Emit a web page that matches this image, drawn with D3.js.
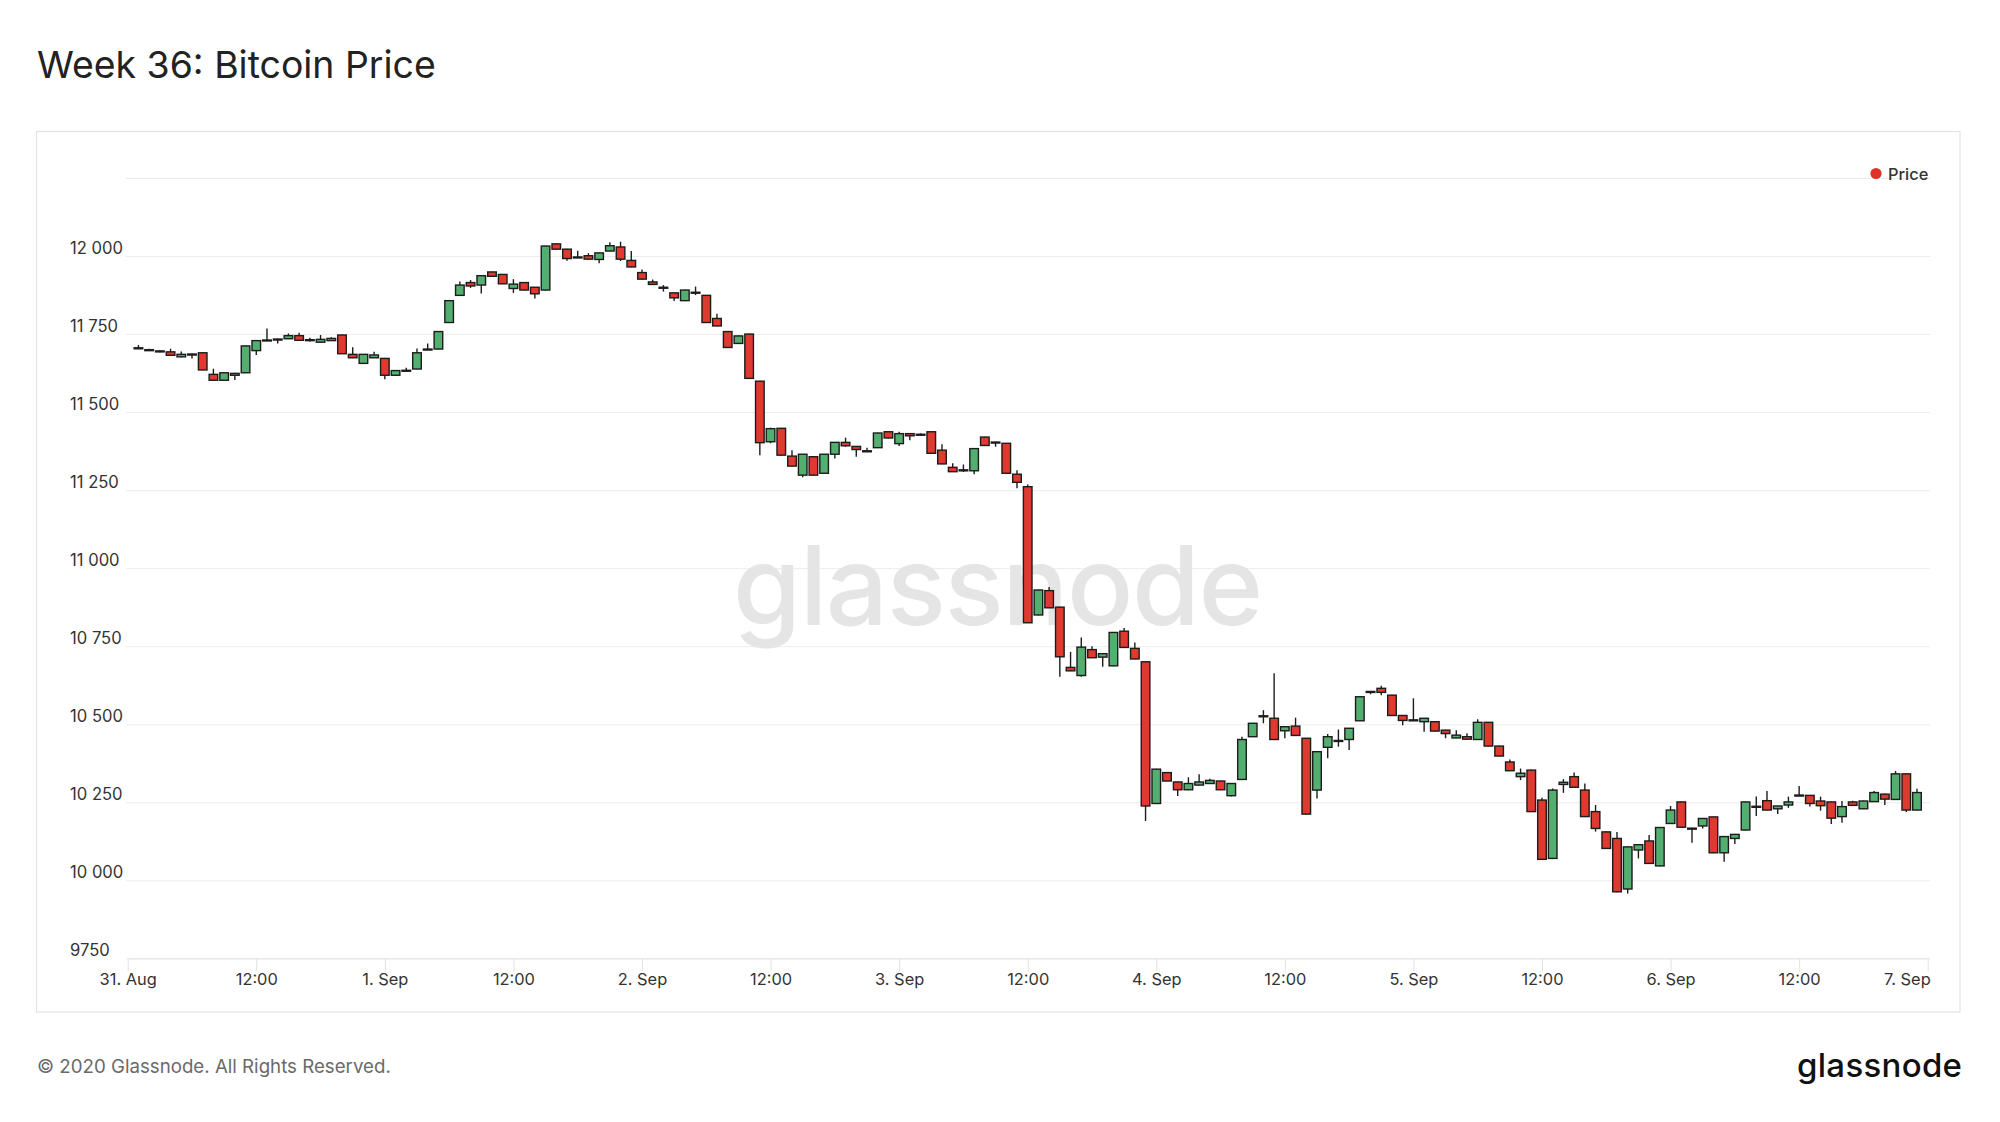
<!DOCTYPE html>
<html><head><meta charset="utf-8">
<script src="https://cdn.jsdelivr.net/npm/d3@7"></script>
<style>
html,body{margin:0;padding:0;background:#fff;}
svg{display:block;font-family:Inter,"Noto Sans",sans-serif;}
</style></head><body>
<svg id="chart" width="2000" height="1122"></svg>
<script>
// ---- data (hourly candles, first candle at 31 Aug 01:00 UTC) ----
const firstCandle = "2020-08-31T01:00:00Z";
const open = [11706,11700,11696,11693,11677,11686,11690,11621,11602,11618,11626,11697,11730,11734,11735,11745,11732,11724,11729,11747,
11685,11656,11674,11672,11618,11633,11638,11701,11702,11787,11874,11915,11907,11949,11941,11896,11915,11900,11891,12039,
12022,11997,12001,11989,12016,12029,11986,11947,11917,11900,11882,11857,11884,11874,11800,11758,11720,11750,11599,11405,
11448,11359,11298,11357,11304,11365,11403,11390,11376,11386,11437,11399,11431,11429,11437,11378,11323,11315,11312,11420,
11404,11400,11301,11261,10850,10928,10875,10682,10656,10739,10715,10687,10798,10743,10700,10246,10345,10315,10290,10305,
10310,10318,10271,10323,10460,10526,10519,10479,10494,10455,10289,10426,10447,10451,10511,10604,10615,10593,10528,10513,
10508,10508,10481,10456,10460,10451,10506,10430,10379,10332,10353,10257,10070,10307,10332,10289,10220,10155,10134,9972,
10097,10126,10046,10182,10251,10167,10174,10203,10088,10134,10161,10236,10255,10229,10241,10272,10272,10254,10251,10204,
10251,10229,10252,10276,10259,10341,10225];
const high = [11715,11703,11698,11703,11694,11688,11691,11639,11627,11626,11713,11730,11768,11736,11752,11754,11738,11747,11740,11748,
11708,11686,11693,11673,11634,11642,11704,11720,11759,11858,11918,11923,11938,11950,11942,11926,11916,11901,12033,12040,
12023,12017,12009,12011,12044,12046,12016,11957,11925,11907,11883,11892,11902,11875,11815,11759,11745,11751,11600,11450,
11449,11378,11366,11358,11366,11404,11418,11391,11386,11434,11438,11437,11432,11432,11438,11397,11336,11332,11384,11421,
11405,11401,11314,11268,10931,10940,10876,10732,10778,10750,10727,10795,10808,10762,10701,10357,10346,10316,10330,10340,
10325,10319,10311,10460,10504,10545,10663,10493,10521,10456,10413,10469,10483,10488,10589,10606,10623,10594,10529,10583,
10520,10509,10482,10481,10471,10516,10507,10431,10387,10358,10354,10264,10294,10324,10345,10310,10241,10156,10155,10108,
10115,10145,10170,10238,10252,10168,10199,10204,10141,10148,10252,10268,10286,10239,10268,10302,10273,10268,10252,10254,
10255,10255,10286,10277,10350,10342,10293];
const low = [11703,11696,11692,11681,11676,11672,11634,11601,11601,11603,11625,11683,11729,11720,11734,11729,11726,11723,11728,11686,
11673,11655,11673,11605,11617,11632,11637,11700,11701,11786,11873,11898,11880,11934,11910,11882,11890,11864,11890,12021,
11985,11995,11989,11977,12015,11984,11964,11925,11908,11886,11856,11856,11875,11786,11775,11706,11719,11607,11362,11400,
11361,11326,11291,11297,11303,11351,11389,11357,11374,11385,11416,11391,11410,11426,11367,11333,11308,11308,11301,11392,
11389,11303,11256,10824,10849,10872,10652,10670,10652,10712,10684,10686,10745,10708,10190,10245,10317,10270,10289,10304,
10309,10289,10268,10322,10459,10503,10450,10455,10463,10211,10262,10391,10428,10417,10510,10596,10593,10527,10497,10512,
10476,10477,10455,10455,10451,10450,10429,10397,10350,10321,10219,10066,10069,10280,10297,10203,10156,10101,9962,9958,
10070,10053,10045,10181,10169,10120,10166,10087,10059,10116,10160,10206,10224,10212,10232,10271,10236,10223,10180,10184,
10239,10228,10251,10241,10258,10219,10224];
const close = [11705,11698,11694,11682,11685,11685,11635,11602,11626,11624,11712,11729,11731,11733,11745,11730,11731,11733,11736,11687,
11674,11685,11683,11618,11633,11634,11690,11702,11758,11857,11907,11904,11937,11935,11911,11910,11891,11879,12032,12022,
11992,11996,11990,12010,12033,11990,11965,11926,11909,11899,11866,11891,11883,11787,11776,11707,11744,11608,11402,11447,
11362,11327,11365,11298,11365,11403,11392,11380,11375,11433,11417,11431,11424,11428,11368,11334,11309,11314,11383,11393,
11403,11304,11275,10825,10930,10873,10716,10671,10747,10713,10726,10794,10746,10709,10238,10356,10318,10290,10310,10315,
10320,10290,10310,10451,10503,10527,10451,10492,10464,10212,10412,10460,10448,10487,10588,10605,10602,10528,10512,10514,
10519,10478,10470,10465,10452,10506,10430,10398,10351,10343,10220,10067,10289,10314,10298,10204,10166,10102,9963,10107,
10114,10054,10169,10225,10170,10166,10198,10088,10140,10147,10251,10237,10225,10238,10251,10273,10246,10239,10199,10236,
10240,10254,10281,10260,10341,10225,10281];

const yTicks = [9750,10000,10250,10500,10750,11000,11250,11500,11750,12000,12250];
const yTickLabels = ["9750","10 000","10 250","10 500","10 750","11 000","11 250","11 500","11 750","12 000",""];
const xTickLabels = ["31. Aug","12:00","1. Sep","12:00","2. Sep","12:00","3. Sep","12:00","4. Sep","12:00","5. Sep","12:00","6. Sep","12:00","7. Sep"];
const seriesName = "Price";
const titleText = "Week 36: Bitcoin Price";
const footerText = "\u00A9 2020 Glassnode. All Rights Reserved.";
const brandText = "glassnode";

// ---- drawing ----
const svg = d3.select("#chart");
const RED = "#e0392f", GREEN = "#52af70", EDGE = "#1c1c1c";

svg.append("text").attr("x",37).attr("y",78).attr("font-size",37.4).attr("fill","#222").text(titleText);

svg.append("rect").attr("x",36.5).attr("y",131.5).attr("width",1923.5).attr("height",880.5)
  .attr("fill","#fff").attr("stroke","#e3e3e3").attr("stroke-width",1.2);

const t0 = new Date(Date.UTC(2020,7,31,0)), t1 = new Date(Date.UTC(2020,8,7,0));
const x = d3.scaleUtc().domain([t0,t1]).range([127.7,1927.7]);
const y = d3.scaleLinear().domain([9750,12250]).range([958.3,178]);

// y gridlines + labels
const gy = svg.append("g").attr("transform","translate(126,0)")
  .call(d3.axisRight(y).tickValues(yTicks).tickSize(1804).tickFormat((d,i)=>yTickLabels[i]));
gy.select(".domain").remove();
gy.selectAll(".tick line").attr("stroke","#ececec").attr("stroke-width",1);
gy.attr("font-family",null).attr("font-size",16.6);
gy.selectAll(".tick text").attr("x",-56).attr("dy",0).attr("y",-2.5)
  .attr("text-anchor","start").attr("fill","#333");

// watermark
svg.append("text").attr("x",998).attr("y",625).attr("text-anchor","middle")
  .attr("font-size",110).attr("font-weight",500).attr("fill","#e5e5e5")
  .attr("textLength",530).text(brandText);

// x axis
const xTicks = d3.utcHour.every(12).range(t0, new Date(+t1+1));
const gx = svg.append("g").attr("transform","translate(0,958.3)")
  .call(d3.axisBottom(x).tickValues(xTicks).tickSize(13).tickSizeOuter(0).tickFormat((d,i)=>xTickLabels[i]));
gx.attr("font-family",null).attr("font-size",16.4);
gx.select(".domain").attr("stroke","#e2e2e2");
gx.selectAll(".tick line").attr("stroke","#e2e2e2");
gx.selectAll(".tick text").attr("y",27).attr("dy",0).attr("fill","#333");
gx.selectAll(".tick text").filter((d,i,n)=>i===n.length-1).attr("text-anchor","end").attr("x",2.5);

// candles
const tStart = new Date(firstCandle);
const data = open.map((o,i)=>({t:d3.utcHour.offset(tStart,i),o,h:high[i],l:low[i],c:close[i]}));
const cg = svg.append("g").selectAll("g").data(data).join("g");
cg.append("line")
  .attr("x1",d=>x(d.t)).attr("x2",d=>x(d.t))
  .attr("y1",d=>y(d.h)).attr("y2",d=>y(d.l))
  .attr("stroke",EDGE).attr("stroke-width",1.4);
cg.append("rect")
  .attr("x",d=>x(d.t)-4.3).attr("width",8.6)
  .attr("y",d=>y(Math.max(d.o,d.c)))
  .attr("height",d=>Math.max(1,Math.abs(y(d.o)-y(d.c))))
  .attr("fill",d=>d.c>=d.o?GREEN:RED)
  .attr("stroke",EDGE).attr("stroke-width",1.4);

// legend
svg.append("circle").attr("cx",1876).attr("cy",173.5).attr("r",5.6).attr("fill","#e0302a");
svg.append("text").attr("x",1888).attr("y",179.5).attr("font-size",16.4).attr("font-weight",500)
  .attr("fill","#333").text(seriesName);

// footer
svg.append("text").attr("x",37).attr("y",1073).attr("font-size",18.7).attr("fill","#6a6a6a").text(footerText);
svg.append("text").attr("x",1962).attr("y",1077).attr("text-anchor","end")
  .attr("font-size",33).attr("font-weight",500).attr("fill","#111")
  .attr("textLength",165).text(brandText);
</script>
</body></html>
